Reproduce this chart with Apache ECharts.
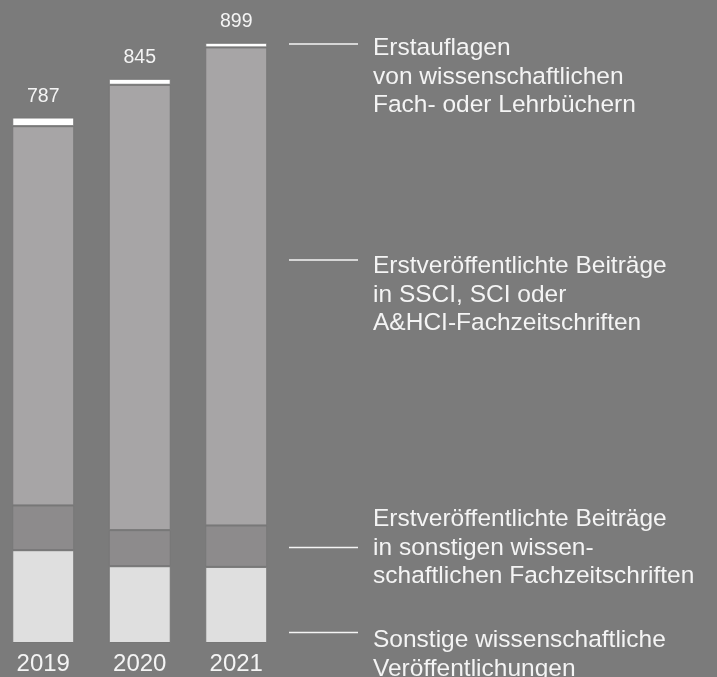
<!DOCTYPE html>
<html>
<head>
<meta charset="utf-8">
<script src="https://cdn.jsdelivr.net/npm/echarts@6/dist/echarts.min.js"></script>
<style>
  html, body { margin: 0; padding: 0; background: #7b7b7b; overflow: hidden; }
  /* shifted 5px left so the first bar can sit close to the edge */
  #chart { width: 722px; height: 677px; margin-left: -5px; }
</style>
</head>
<body>
<div id="chart"></div>
<script>
const years = ['2019', '2020', '2021'];
const sonstigeVeroeff = [139, 115, 114];
const sonstigeZeitschr = [67, 54, 62];
const ssciBeitraege = [568, 667, 716];
const erstauflagen = [13, 9, 7];
const totals = [787, 845, 899];

const legendTexts = [
  { top: 34, lineY: 44, text: 'Erstauflagen\nvon wissenschaftlichen\nFach- oder Lehrbüchern' },
  { top: 252, lineY: 260, text: 'Erstveröffentlichte Beiträge\nin SSCI, SCI oder\nA&HCI-Fachzeitschriften' },
  { top: 505, lineY: 547.5, text: 'Erstveröffentlichte Beiträge\nin sonstigen wissen-\nschaftlichen Fachzeitschriften' },
  { top: 626, lineY: 632.5, text: 'Sonstige wissenschaftliche\nVeröffentlichungen' }
];

const off = 5; // compensate the css shift
const chart = echarts.init(document.getElementById('chart'));

const seg = (name, data, color) => ({
  name,
  type: 'bar',
  stack: 'total',
  data,
  barWidth: 62,
  itemStyle: { color, borderColor: '#777777', borderWidth: 1 }
});

const topSeries = seg('Erstauflagen', erstauflagen, '#ffffff');
topSeries.label = {
  show: true,
  position: 'top',
  distance: 11,
  color: '#f4f4f4',
  fontFamily: 'Liberation Sans',
  fontSize: 19.5,
  formatter: p => totals[p.dataIndex]
};

const graphics = [];
legendTexts.forEach(l => {
  graphics.push({
    type: 'line',
    shape: { x1: 289 + off, y1: l.lineY, x2: 358 + off, y2: l.lineY },
    style: { stroke: '#f4f4f4', lineWidth: 1.5 }
  });
  graphics.push({
    type: 'text',
    left: 373 + off,
    top: l.top,
    style: {
      text: l.text,
      fill: '#f4f4f4',
      font: '24.5px "Liberation Sans"',
      lineHeight: 28.5
    }
  });
});

chart.setOption({
  backgroundColor: '#7b7b7b',
  animation: false,
  grid: { left: 0, right: 432.5, top: 2, bottom: 34, containLabel: false },
  xAxis: {
    type: 'category',
    data: years,
    axisLine: { show: false },
    axisTick: { show: false },
    axisLabel: {
      color: '#f4f4f4',
      fontFamily: 'Liberation Sans',
      fontSize: 24,
      margin: 9
    }
  },
  yAxis: {
    type: 'value',
    min: 0,
    max: 960,
    show: false,
    splitLine: { show: false }
  },
  series: [
    seg('Sonstige wissenschaftliche Veröffentlichungen', sonstigeVeroeff, '#dfdfdf'),
    seg('Beiträge in sonstigen Fachzeitschriften', sonstigeZeitschr, '#8d8b8c'),
    seg('Beiträge in SSCI, SCI oder A&HCI', ssciBeitraege, '#a7a5a6'),
    topSeries
  ],
  graphic: graphics
});
</script>
</body>
</html>
